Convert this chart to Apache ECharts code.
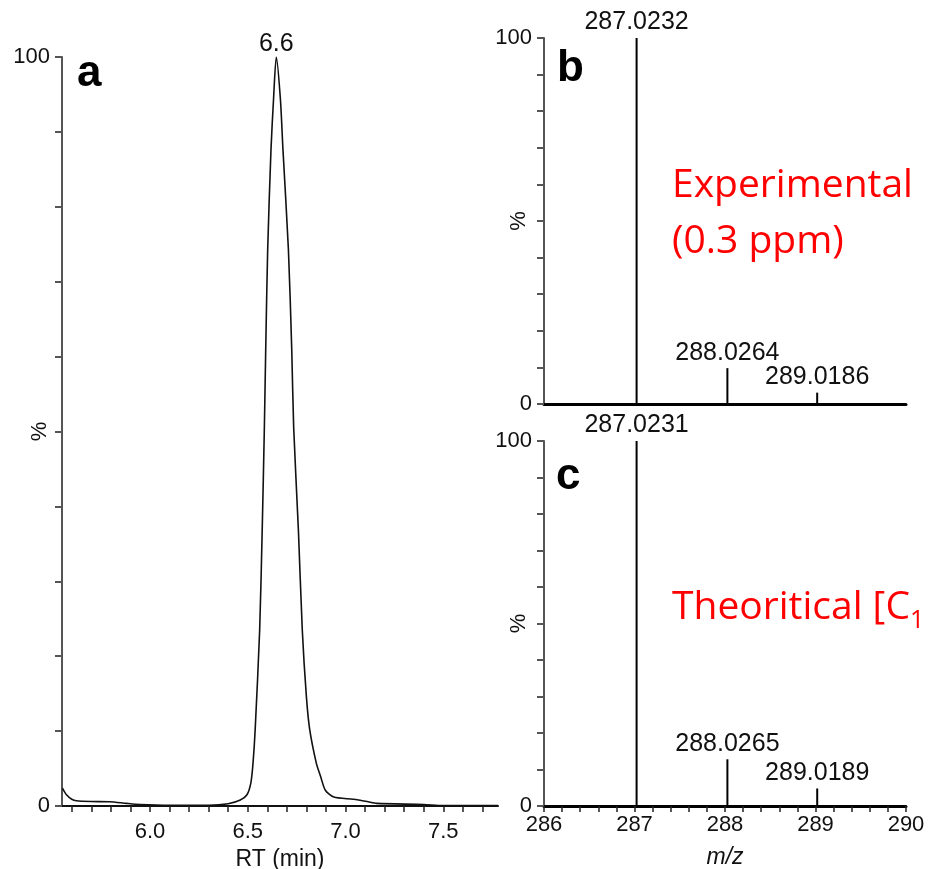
<!DOCTYPE html>
<html>
<head>
<meta charset="utf-8">
<script src="https://cdn.jsdelivr.net/npm/echarts@6/dist/echarts.min.js"></script>
<style>
    html, body { margin: 0; padding: 0; background: #fff; }
    #main { width: 929px; height: 869px; }
</style>
</head>
<body>
<div id="main"></div>
<script type="text/javascript">

    // chromatogram (panel a)
    var rtTime = [5.552, 5.573, 5.6, 5.624, 5.7, 5.795, 5.88, 5.95, 6.1, 6.3, 6.4, 6.462, 6.496, 6.516, 6.527,
        6.538, 6.561, 6.574, 6.585, 6.592, 6.602, 6.619, 6.632, 6.646, 6.667, 6.68, 6.708, 6.725, 6.735,
        6.759, 6.779, 6.8, 6.817, 6.851, 6.872, 6.897, 6.94, 7.04, 7.11, 7.16, 7.4, 7.5, 7.78];
    var rtIntensity = [2.4, 1.5, 0.9, 0.7, 0.6, 0.57, 0.35, 0.2, 0.1, 0.1, 0.3, 0.8, 1.5, 3.1, 5.7,
        10.2, 23.5, 36.9, 50.5, 61, 74.3, 87.7, 94.4, 100, 94.4, 87.7, 74.3, 61, 50.5,
        36.9, 23.5, 14.6, 10.2, 5.7, 4.0, 2.1, 1.2, 0.9, 0.6, 0.35, 0.2, 0.05, 0.05];
    var rtTicks = [5.6, 5.7, 5.8, 5.9, 6.0, 6.1, 6.2, 6.3, 6.4, 6.5, 6.6, 6.7, 6.8, 6.9, 7.0, 7.1, 7.2, 7.3, 7.4, 7.5, 7.6, 7.7];
    var rtTickLabels = [6.0, 6.5, 7.0, 7.5];

    // spectra (panels b, c)
    var expMz = [287.0232, 288.0264, 289.0186];
    var expInt = [100, 9.8, 3.1];
    var theoMz = [287.0231, 288.0265, 289.0189];
    var theoInt = [100, 12.8, 4.8];
    var mzTicks = [286, 286.2, 286.4, 286.6, 286.8, 287, 287.2, 287.4, 287.6, 287.8, 288, 288.2, 288.4,
        288.6, 288.8, 289, 289.2, 289.4, 289.6, 289.8, 290];
    var mzTickLabels = [286, 287, 288, 289, 290];

    var pctTicks = [0, 10, 20, 30, 40, 50, 60, 70, 80, 90, 100];

    var FONT = 'Liberation Sans';

    var chromData = rtTime.map(function (t, i) {
        var item = { value: [t, rtIntensity[i]] };
        if (rtIntensity[i] === 100) {
            item.label = {
                show: true, position: 'top', distance: 0,
                formatter: function (p) { return p.value[0].toFixed(1); },
                fontSize: 25, color: '#111', fontFamily: FONT
            };
        }
        return item;
    });

    function pairs(xs, ys) {
        return xs.map(function (x, i) { return [x, ys[i]]; });
    }

    function pctAxis(gridIndex, nameGap) {
        return {
            gridIndex: gridIndex, type: 'value', min: 0, max: 100,
            axisLine: { show: true, lineStyle: { color: '#555', width: 2 } },
            axisTick: { show: true, customValues: pctTicks, length: 7, lineStyle: { color: '#555', width: 2 } },
            axisLabel: {
                customValues: [0, 100], margin: 12, fontSize: 22, color: '#111', fontFamily: FONT
            },
            splitLine: { show: false },
            name: '%', nameLocation: 'middle', nameGap: nameGap, nameRotate: 90,
            nameMoveOverlap: false,
            nameTextStyle: { fontSize: 22, color: '#111', fontFamily: FONT }
        };
    }

    function peakLabel() {
        return {
            show: true, position: 'top', distance: 3,
            formatter: function (p) { return p.value[0].toFixed(4); },
            fontSize: 25, color: '#111', fontFamily: FONT
        };
    }

    var chart = echarts.init(document.getElementById('main'));
    chart.setOption({
        backgroundColor: '#fff',
        animation: false,
        grid: [
            { left: 62, top: 57, width: 436, height: 749, outerBoundsMode: 'none' },
            { left: 544, top: 38, width: 362, height: 366, outerBoundsMode: 'none' },
            { left: 544, top: 441, width: 362, height: 365, outerBoundsMode: 'none' }
        ],
        xAxis: [
            {
                gridIndex: 0, type: 'value', min: 5.55, max: 7.78,
                axisLine: { lineStyle: { color: '#111', width: 2 } },
                axisTick: { customValues: rtTicks, length: 6, lineStyle: { color: '#222', width: 1.5 } },
                axisLabel: {
                    customValues: rtTickLabels, margin: 15, fontSize: 22, color: '#111', fontFamily: FONT,
                    formatter: function (v) { return v.toFixed(1); }
                },
                splitLine: { show: false },
                name: 'RT (min)', nameLocation: 'middle', nameGap: 42, nameMoveOverlap: false,
                nameTextStyle: { fontSize: 23, color: '#111', fontFamily: FONT }
            },
            {
                gridIndex: 1, type: 'value', min: 286, max: 290,
                axisLine: { lineStyle: { color: '#000', width: 3 } },
                axisTick: { show: false }, axisLabel: { show: false },
                splitLine: { show: false }
            },
            {
                gridIndex: 2, type: 'value', min: 286, max: 290,
                axisLine: { lineStyle: { color: '#000', width: 3 } },
                axisTick: { customValues: mzTicks, length: 6, lineStyle: { color: '#222', width: 1.5 } },
                axisLabel: {
                    customValues: mzTickLabels, margin: 8, fontSize: 22, color: '#111', fontFamily: FONT
                },
                splitLine: { show: false },
                name: 'm/z', nameLocation: 'middle', nameGap: 40, nameMoveOverlap: false,
                nameTextStyle: { fontSize: 23, color: '#111', fontFamily: FONT, fontStyle: 'italic' }
            }
        ],
        yAxis: [pctAxis(0, 11), pctAxis(1, 14), pctAxis(2, 14)],
        series: [
            {
                type: 'line', xAxisIndex: 0, yAxisIndex: 0, data: chromData,
                showSymbol: true, showAllSymbol: true, symbol: 'circle', symbolSize: 0.1,
                smooth: 0.25,
                lineStyle: { color: '#111', width: 1.6 }, itemStyle: { color: '#111' }
            },
            {
                type: 'bar', xAxisIndex: 1, yAxisIndex: 1, data: pairs(expMz, expInt),
                barWidth: 2, itemStyle: { color: '#000' }, label: peakLabel()
            },
            {
                type: 'bar', xAxisIndex: 2, yAxisIndex: 2, data: pairs(theoMz, theoInt),
                barWidth: 2, itemStyle: { color: '#000' }, label: peakLabel()
            }
        ],
        graphic: [
            { type: 'text', left: 77, top: 52, style: { text: 'a', font: 'bold 44px "Liberation Sans"', fill: '#000' } },
            { type: 'text', left: 557, top: 47, style: { text: 'b', font: 'bold 44px "Liberation Sans"', fill: '#000' } },
            { type: 'text', left: 556, top: 455, style: { text: 'c', font: 'bold 44px "Liberation Sans"', fill: '#000' } },
            {
                type: 'text', left: 672, top: 158,
                style: { text: 'Experimental\n(0.3 ppm)', font: '39px "Open Sans"', fill: '#ff0000', lineHeight: 56 }
            },
            {
                type: 'text', left: 672, top: 588,
                style: {
                    text: '{m|Theoritical [C}{s|1}',
                    rich: {
                        m: { font: '39px "Open Sans"', fill: '#ff0000', lineHeight: 52 },
                        s: { font: '25px "Open Sans"', fill: '#ff0000', lineHeight: 52, verticalAlign: 'bottom', padding: [14, 0, 0, 0] }
                    }
                }
            }
        ]
    });
</script>
</body>
</html>
